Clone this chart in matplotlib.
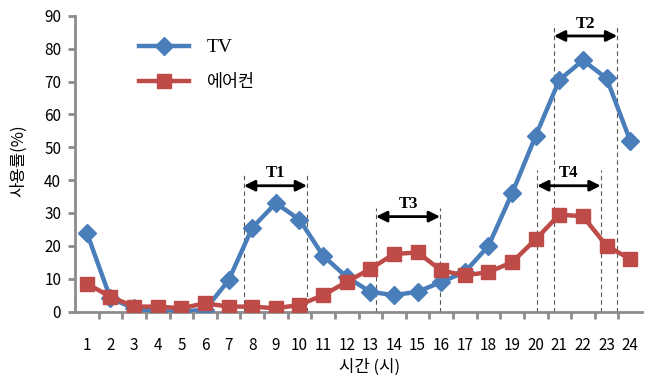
import matplotlib
matplotlib.use("Agg")
import matplotlib.pyplot as plt

plt.rcParams['font.family'] = ['Noto Sans CJK KR', 'DejaVu Sans']

# 시간별 사용률 데이터
hours = list(range(1, 25))
tv = [24, 4, 1, 0, 0, 0.5, 9.5, 25.5, 33, 28, 17, 10.5,
      6, 5, 6, 9, 12, 20, 36, 53.5, 70.5, 76.5, 71, 52]
aircon = [8.5, 4.5, 1.5, 1.5, 1, 2.5, 1.5, 1.5, 1, 2, 5, 9,
          13, 17.5, 18, 12.5, 11, 12, 15, 22, 29.5, 29, 20, 16]

# 구간 표시 (라벨, 시작, 끝, 화살표 높이, 점선 높이)
spans = [
    ("T1", 7.65, 10.32, 38.3, 42.5),
    ("T3", 13.24, 15.95, 28.9, 31.5),
    ("T4", 20.06, 22.75, 38.3, 43.0),
    ("T2", 20.77, 23.45, 83.9, 87.5),
]

BLUE = "#4A7EBB"
RED = "#BE4B48"
GRAY = "#8C8C8C"

fig = plt.figure(figsize=(6.57, 3.79), dpi=100)
ax = fig.add_axes([0.1142, 0.178, 0.8630, 0.780])

ax.plot(hours, tv, color=BLUE, lw=3.2, marker="D", markersize=9,
        markeredgecolor=BLUE, label="TV", zorder=3)
ax.plot(hours, aircon, color=RED, lw=3.2, marker="s", markersize=10.5,
        markeredgecolor=RED, label="에어컨", zorder=4)

for name, x0, x1, ya, ytop in spans:
    for xx in (x0, x1):
        ax.plot([xx, xx], [0, ytop], color="#555555", lw=0.8, ls=(0, (4, 3)), zorder=2)
    ax.annotate("", xy=(x0, ya), xytext=(x1, ya),
                arrowprops=dict(arrowstyle="<|-|>", color="black", lw=2,
                                mutation_scale=16, shrinkA=0, shrinkB=0))
    ax.text((x0 + x1) / 2, ya + 1.3, name, ha="center", va="bottom",
            fontsize=12, fontweight="bold", family="Liberation Serif")

ax.set_xlim(0.5, 24.5)
ax.set_ylim(0, 90)
ax.set_yticks(range(0, 91, 10))
ax.set_xticks([h + 0.5 for h in hours[:-1]])
ax.set_xticklabels([])
ax.set_xticks(hours, minor=True)
ax.set_xticklabels([str(h) for h in hours], minor=True)
ax.tick_params(axis="x", which="minor", length=0, pad=18, labelsize=11)
ax.tick_params(axis="x", which="major", length=5, width=2, color=GRAY, direction="out")
ax.tick_params(axis="y", length=5, width=2, color=GRAY, labelsize=11, pad=5)

for s in ("top", "right"):
    ax.spines[s].set_visible(False)
for s in ("left", "bottom"):
    ax.spines[s].set_color(GRAY)
    ax.spines[s].set_linewidth(2)

ax.set_ylabel("사용률(%)", fontsize=12)
ax.yaxis.set_label_coords(-0.085, 0.51)
ax.set_xlabel("시간 (시)", fontsize=12, va="center")
ax.xaxis.set_label_coords(0.52, -0.19)

leg = ax.legend(loc="upper left", bbox_to_anchor=(0.085, 0.975), frameon=False,
                handlelength=2.9, labelspacing=1.0, fontsize=12.5, handletextpad=1.0)
leg.get_texts()[0].set_family("Liberation Serif")
leg.get_texts()[0].set_fontsize(14)

fig.savefig("out.png", dpi=100)
